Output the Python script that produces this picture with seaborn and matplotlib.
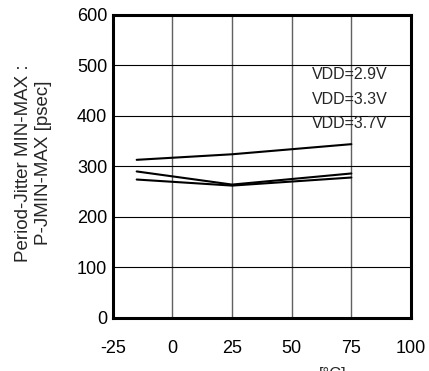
import matplotlib
matplotlib.use("Agg")
import matplotlib.pyplot as plt
import seaborn as sns
import pandas as pd

# data
temps = [-15, 25, 75]
vdd_labels = ["VDD=2.9V", "VDD=3.3V", "VDD=3.7V"]
jitter_29 = [313, 324, 344]
jitter_33 = [290, 264, 286]
jitter_37 = [274, 262, 278]

xticks = [-25, 0, 25, 50, 75, 100]
yticks = [0, 100, 200, 300, 400, 500, 600]

df = pd.DataFrame({
    "temp": temps * 3,
    "jitter": jitter_29 + jitter_33 + jitter_37,
    "vdd": [vdd_labels[0]] * 3 + [vdd_labels[1]] * 3 + [vdd_labels[2]] * 3,
})

sns.set_style("white")
plt.rcParams["font.family"] = ["Liberation Sans", "DejaVu Sans"]
plt.rcParams["axes.unicode_minus"] = False

fig = plt.figure(figsize=(4.29, 3.71), dpi=100)
ax = fig.add_axes([0.263, 0.143, 0.695, 0.817])

sns.lineplot(data=df, x="temp", y="jitter", hue="vdd",
             palette=["black"] * 3, linewidth=1.5, legend=False, ax=ax)

ax.set_xlim(-25, 100)
ax.set_ylim(0, 600)
ax.set_xticks(xticks)
ax.set_yticks(yticks)

# grid: gray vertical, black horizontal
for x in xticks[1:-1]:
    ax.axvline(x, color="#606060", linewidth=1.0, zorder=0)
for y in yticks[1:-1]:
    ax.axhline(y, color="black", linewidth=0.8, zorder=0)

for s in ax.spines.values():
    s.set_color("black")
    s.set_linewidth(2.2)

ax.tick_params(axis="x", direction="in", length=4, width=1.5, pad=16,
               labelsize=13, colors="black")
ax.tick_params(axis="y", direction="in", length=0, pad=4,
               labelsize=13, colors="black")

ax.set_xlabel("")
ax.set_ylabel("")
fig.text(33.5 / 429, 1 - 163 / 371, "Period-Jitter MIN-MAX :\nP-JMIN-MAX [psec]",
         fontsize=13.5, rotation=90, ha="center", va="center", linespacing=1.3)

# series labels
label_y = [482, 433, 385]
for lab, yy in zip(vdd_labels, label_y):
    ax.text(58.5, yy, lab, fontsize=11.5, va="center", ha="left")

# x-axis unit label, mostly cut off at the bottom
fig.text(333 / 429, 1 - 367 / 371, "[°C]", fontsize=12, ha="center", va="top")

fig.savefig("out.png", dpi=100)
